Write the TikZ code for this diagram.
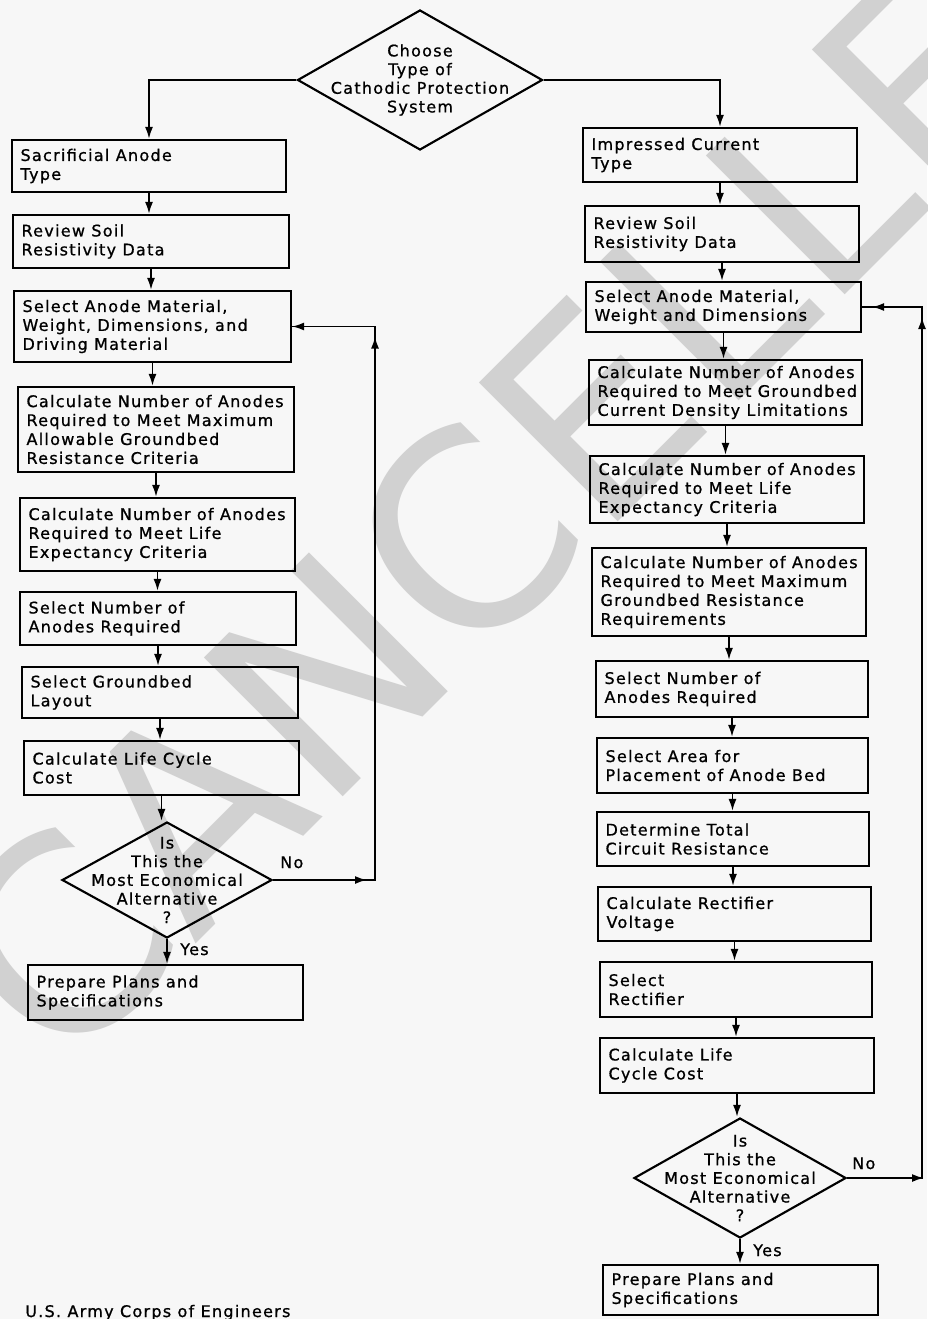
\documentclass[tikz,border=0pt]{standalone}
\usepackage{fontspec}
\setmainfont{DejaVu Sans}[LetterSpace=8]
\newfontfamily\diafont{DejaVu Sans}[LetterSpace=8, FakeBold=0.9]
\newfontfamily\wmfont{DejaVu Sans}
\usetikzlibrary{arrows.meta,shapes.geometric,calc}
\newcommand\fsz{\diafont\fontsize{12}{14.2}\selectfont}
\tikzset{
  box/.style={draw, line width=1.6pt, inner sep=0pt},
  boxtext/.style={font=\fsz, align=left, inner xsep=7pt, inner ysep=0pt, anchor=west},
  arr/.style={line width=1.4pt, -{Latex[length=9pt,width=6pt]}},
  ln/.style={line width=1.4pt},
  dia/.style={draw, diamond, line width=1.6pt, inner sep=0pt},
  lbl/.style={font=\fsz, inner sep=0pt},
  wm/.style={inner sep=0pt, text=black!18, font=\wmfont\fontsize{202}{202}\selectfont}
}
% box: name, x1, y1, x2, y2, text
\newcommand\bx[6]{%
  \pgfmathsetmacro\bxw{(#4-#2)*0.75}%
  \pgfmathsetmacro\bxh{(#5-#3)*0.75}%
  \node[box, minimum width=\bxw pt, minimum height=\bxh pt,
        label={[boxtext]west:#6}] (#1) at ({(#2+#4)/2},{(#3+#5)/2}) {};}
% diamond: name, cx, cy, w, h, text
\newcommand\dm[6]{%
  \pgfmathsetmacro\dmw{#4*0.75}%
  \pgfmathsetmacro\dmh{#5*0.75}%
  \node[dia, minimum width=\dmw pt, minimum height=\dmh pt,
        label={[lbl, align=center, font=\diafont\fontsize{12}{14}\selectfont]center:#6}] (#1) at (#2,#3) {};}
\begin{document}
\begin{tikzpicture}[x=0.75pt, y=-0.75pt]
\useasboundingbox (0,0) rectangle (927,1319);
\fill[black!3] (0,0) rectangle (927,1319);
\begin{scope}
  \clip (0,0) rectangle (927,1319);
  \node[wm, rotate=45, anchor=base west] (watermark) at (61,1079) {CANCELLED};
\end{scope}

% top decision
\dm{top}{420}{80}{245}{140}{Choose\\Type of\\Cathodic Protection\\System}

% left column
\bx{s1}{12}{140}{286}{192}{Sacrificial Anode\\Type}
\bx{s2}{13}{215}{289}{268}{Review Soil\\Resistivity Data}
\bx{s3}{14}{291}{291}{362}{Select Anode Material,\\Weight, Dimensions, and\\Driving Material}
\bx{s4}{18}{387}{294}{472}{Calculate Number of Anodes\\Required to Meet Maximum\\Allowable Groundbed\\Resistance Criteria}
\bx{s5}{20}{498}{295}{571}{Calculate Number of Anodes\\Required to Meet Life\\Expectancy Criteria}
\bx{s6}{20}{592}{296}{645}{Select Number of\\Anodes Required}
\bx{s7}{22}{667}{298}{718}{Select Groundbed\\Layout}
\bx{s8}{24}{741}{299}{795}{Calculate Life Cycle\\Cost}
\dm{ld}{167}{880}{210}{116}{Is\\This the\\Most Economical\\Alternative\\?}
\bx{s9}{28}{965}{303}{1020}{Prepare Plans and\\Specifications}

% right column
\bx{i1}{583}{128}{857}{182}{Impressed Current\\Type}
\bx{i2}{585}{206}{859}{262}{Review Soil\\Resistivity Data}
\bx{i3}{586}{282}{861}{332}{Select Anode Material,\\Weight and Dimensions}
\bx{i4}{589}{360}{862}{425}{Calculate Number of Anodes\\Required to Meet Groundbed\\Current Density Limitations}
\bx{i5}{590}{456}{864}{523}{Calculate Number of Anodes\\Required to Meet Life\\Expectancy Criteria}
\bx{i6}{592}{548}{866}{636}{Calculate Number of Anodes\\Required to Meet Maximum\\Groundbed Resistance\\Requirements}
\bx{i7}{596}{661}{868}{717}{Select Number of\\Anodes Required}
\bx{i8}{597}{738}{868}{793}{Select Area for\\Placement of Anode Bed}
\bx{i9}{597}{812}{869}{866}{Determine Total\\Circuit Resistance}
\bx{i10}{598}{887}{871}{941}{Calculate Rectifier\\Voltage}
\bx{i11}{600}{962}{872}{1017}{Select\\Rectifier}
\bx{i12}{600}{1038}{874}{1093}{Calculate Life\\Cycle Cost}
\dm{rd}{740}{1178}{212}{120}{Is\\This the\\Most Economical\\Alternative\\?}
\bx{i13}{603}{1265}{878}{1315}{Prepare Plans and\\Specifications}

% connectors from top decision
\draw[arr] (top.west) -| (s1.north);
\draw[arr] (top.east) -| (i1.north);

% left chain
\foreach \a/\b in {s1/s2, s2/s3, s3/s4, s4/s5, s5/s6, s6/s7, s7/s8, s8/ld, ld/s9}
  \draw[arr] (\a.south) -- (\a.south |- \b.north);
% right chain
\foreach \a/\b in {i1/i2, i2/i3, i3/i4, i4/i5, i5/i6, i6/i7, i7/i8, i8/i9, i9/i10, i10/i11, i11/i12, i12/rd, rd/i13}
  \draw[arr] (\a.south) -- (\a.south |- \b.north);

% left feedback loop
\coordinate (cl) at (375,0);
\draw[ln] (ld.east) -- (ld.east -| cl) -- (s3.east -| cl) -- (s3.east);
\draw[arr] (ld.east -| cl) ++(-24,0) -- ++(16,0);
\draw[arr] (s3.east -| cl) ++(0,30) -- ++(0,-20);
\draw[arr] (s3.east) ++(20,0) -- (s3.east);

% right feedback loop
\coordinate (cr) at (922,0);
\draw[ln] (rd.east) -- (rd.east -| cr) -- (i3.east -| cr) -- (i3.east);
\draw[arr] (rd.east -| cr) ++(-18,0) -- ++(20,0);
\draw[arr] (i3.east -| cr) ++(0,30) -- ++(0,-20);
\draw[arr] (i3.east) ++(24,0) -- ++(-14,0);

% branch labels
\node[lbl, anchor=base west] (noL) at (280,868) {No};
\node[lbl, anchor=base west] (yesL) at (180,955) {Yes};
\node[lbl, anchor=base west] (noR) at (852,1169) {No};
\node[lbl, anchor=base west] (yesR) at (753,1256) {Yes};

% source
\node[lbl, anchor=base west] (source) at (25,1317) {U.S. Army Corps of Engineers};
\end{tikzpicture}
\end{document}
